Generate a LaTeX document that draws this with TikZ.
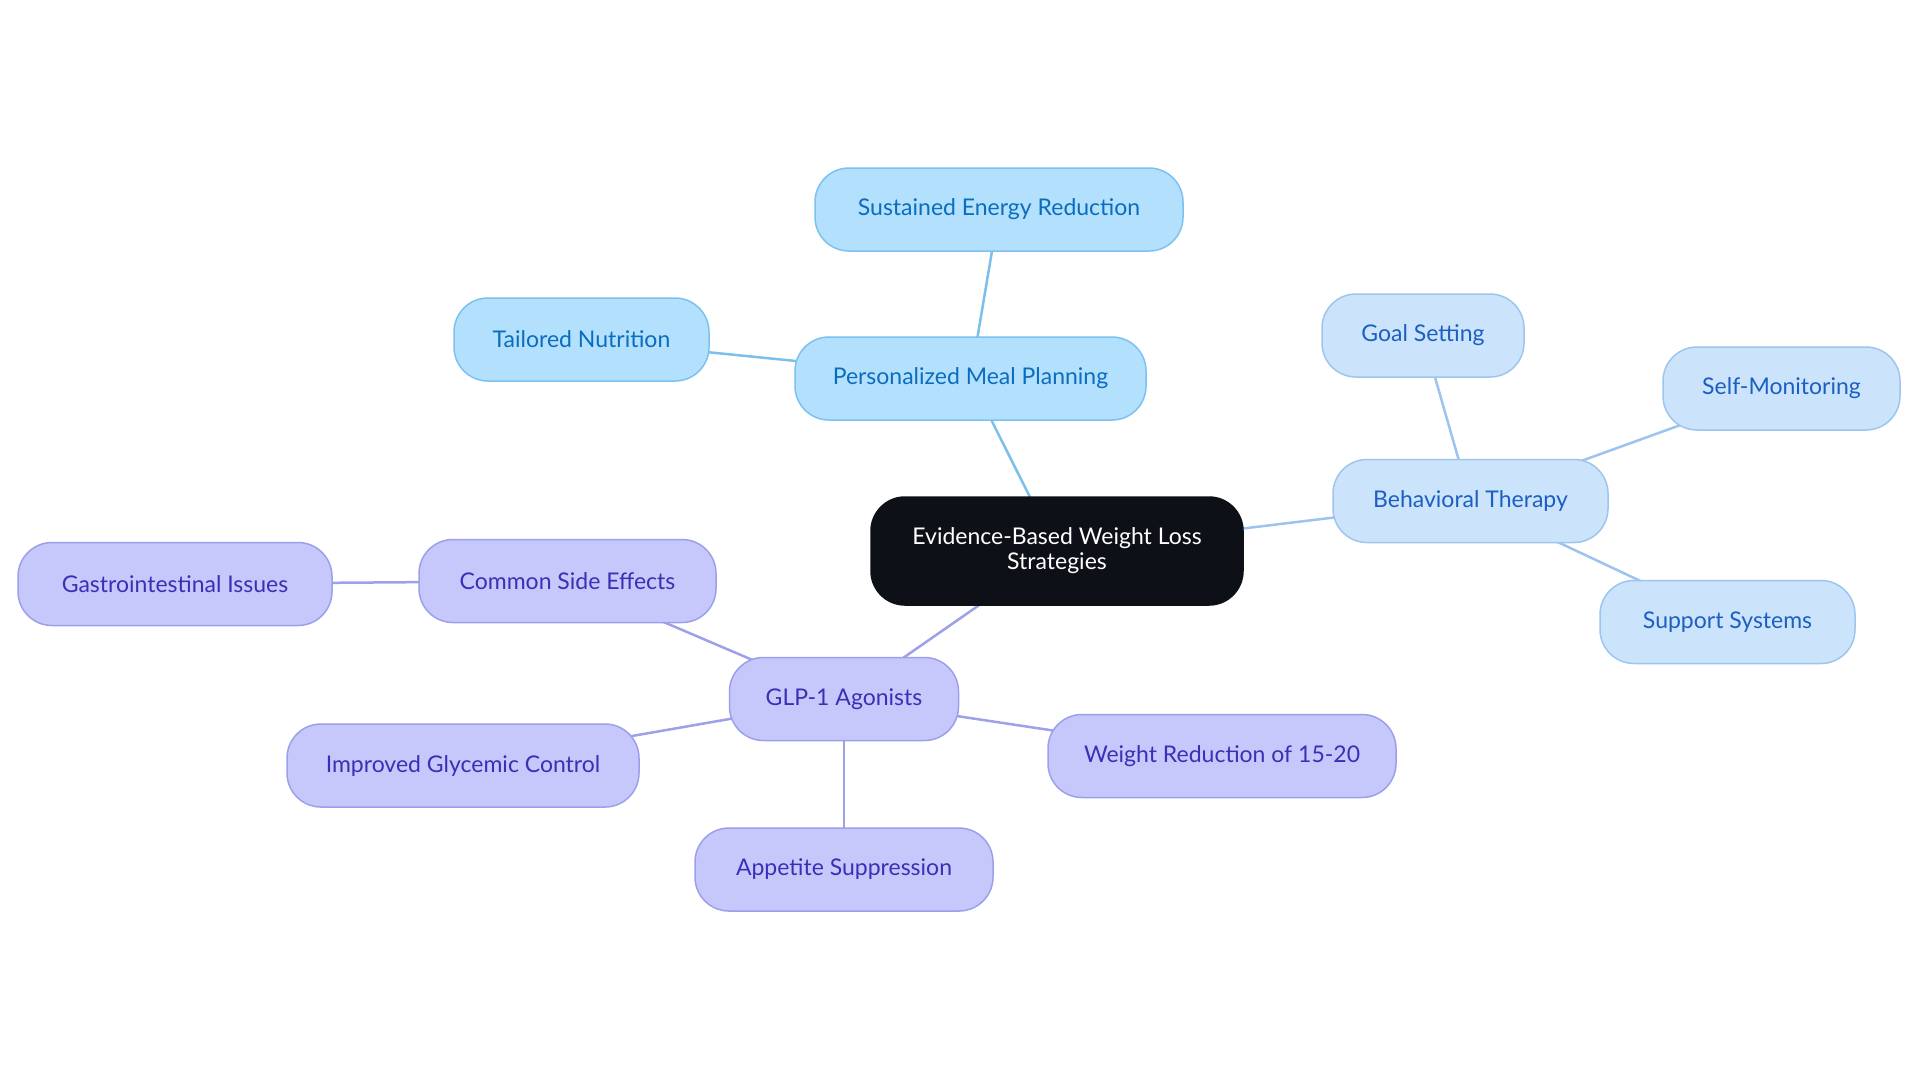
\documentclass[tikz,border=0pt]{standalone}
\usepackage{fontspec}
\setmainfont{Lato}
\definecolor{pmfill}{HTML}{B3E0FD}
\definecolor{pmdraw}{HTML}{7CC1F0}
\definecolor{pmtext}{HTML}{0B6DBE}
\definecolor{pmedge}{HTML}{7CBFEC}
\definecolor{btfill}{HTML}{CCE4FB}
\definecolor{btdraw}{HTML}{9DC5EE}
\definecolor{bttext}{HTML}{1C5FC2}
\definecolor{btedge}{HTML}{9DC4EE}
\definecolor{glfill}{HTML}{C6C8FC}
\definecolor{gldraw}{HTML}{9C9FEA}
\definecolor{gltext}{HTML}{3B2FB5}
\definecolor{gledge}{HTML}{9EA0E8}
\definecolor{rootfill}{HTML}{0D1117}
\pgfdeclarelayer{paper}
\pgfdeclarelayer{edges}
\pgfsetlayers{paper,edges,main}
\begin{document}
\begin{tikzpicture}[x=0.5pt,y=-0.5pt,
  base/.style={rounded corners=17pt, line width=0.75pt, inner sep=0pt,
    minimum height=41.5pt, align=center, font=\fontsize{11.5}{14}\selectfont},
  pm/.style={base, fill=pmfill, draw=pmdraw, text=pmtext},
  bt/.style={base, fill=btfill, draw=btdraw, text=bttext},
  gl/.style={base, fill=glfill, draw=gldraw, text=gltext},
  root/.style={base, fill=rootfill, draw=rootfill, text=white, minimum height=54pt, minimum width=186pt, font=\fontsize{11.5}{12.5}\selectfont},
  link/.style={line width=1.25pt}]
\begin{pgfonlayer}{paper}
\fill[white] (0,0) rectangle (1920,1083);
\end{pgfonlayer}
\useasboundingbox (0,0) rectangle (1920,1083);

\node[root] (root) at (1057,551) {Evidence-Based Weight Loss\\Strategies};

\node[pm, minimum width=175.5pt] (pmp) at (970.5,378.5) {Personalized Meal Planning};
\node[pm, minimum width=184pt] (ser) at (999,209.5) {Sustained Energy Reduction};
\node[pm, minimum width=127.5pt] (tn) at (581.5,339.5) {Tailored Nutrition};

\node[bt, minimum width=137.5pt] (bt) at (1470.5,501) {Behavioral Therapy};
\node[bt, minimum width=101pt] (gs) at (1423,335.5) {Goal Setting};
\node[bt, minimum width=118.5pt] (sm) at (1781.5,388.5) {Self-Monitoring};
\node[bt, minimum width=127.5pt] (ss) at (1727.5,622) {Support Systems};

\node[gl, minimum width=114.5pt] (glp) at (844,699) {GLP-1 Agonists};
\node[gl, minimum width=148.5pt] (cse) at (567.5,581) {Common Side Effects};
\node[gl, minimum width=157pt] (gi) at (175,584) {Gastrointestinal Issues};
\node[gl, minimum width=176pt] (igc) at (463,765.5) {Improved Glycemic Control};
\node[gl, minimum width=174pt] (wr) at (1222,756) {Weight Reduction of 15-20};
\node[gl, minimum width=149pt] (as) at (844,869.5) {Appetite Suppression};

\begin{pgfonlayer}{edges}
\draw[link, pmedge] (root.center) -- (pmp.center);
\draw[link, pmedge] (pmp.center) -- (ser.center);
\draw[link, pmedge] (pmp.center) -- (tn.center);
\draw[link, btedge] (root.center) -- (bt.center);
\draw[link, btedge] (bt.center) -- (gs.center);
\draw[link, btedge] (bt.center) -- (sm.center);
\draw[link, btedge] (bt.center) -- (ss.center);
\draw[link, gledge] (root.center) -- (glp.center);
\draw[link, gledge] (glp.center) -- (cse.center);
\draw[link, gledge] (cse.center) -- (gi.center);
\draw[link, gledge] (glp.center) -- (igc.center);
\draw[link, gledge] (glp.center) -- (wr.center);
\draw[link, gledge] (glp.center) -- (as.center);
\end{pgfonlayer}
\end{tikzpicture}
\end{document}
